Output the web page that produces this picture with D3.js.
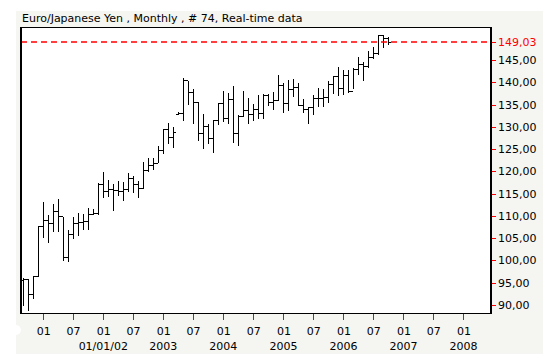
<!DOCTYPE html>
<html>
<head>
<meta charset="utf-8">
<script src="https://cdn.jsdelivr.net/npm/d3@7"></script>
<style>
  body { margin: 0; background: #fff; }
  text { font-family: "DejaVu Sans", Verdana, sans-serif; font-size: 11px; }
</style>
</head>
<body>
<div class="chart"></div>
<script>
// Monthly EUR/JPY bars, Sep 2000 .. Oct 2006 (74 bars)
var firstMonth = new Date(2000, 8, 1);

var openVals = [95.5, 95.8, 92.4, 96.3, 107.7, 108.9, 108.4, 110.9, 109.8, 100.6,
  105.9, 108.3, 108.6, 108.8, 110.4, 110.6, 117.1, 115.4, 116.0, 115.7,
  115.5, 116.0, 118.4, 117.1, 116.2, 120.1, 121.4, 121.8, 124.6, 129.3,
  127.6, 132.8, 133.0, 140.4, 137.8, 135.5, 128.5, 130.0, 127.4, 131.5,
  135.2, 131.9, 136.2, 128.5, 132.4, 133.6, 132.8, 133.9, 133.0, 137.1,
  135.4, 136.0, 139.2, 135.3, 138.4, 138.9, 134.8, 133.8, 134.4, 136.4,
  136.4, 136.5, 139.5, 141.4, 138.6, 141.6, 137.9, 142.9, 143.9, 143.5,
  145.5, 146.5, 150.6, 149.8];

var highVals = [96.1, 95.8, 96.5, 107.7, 113.1, 110.1, 112.6, 113.7, 109.8, 106.8,
  109.8, 110.6, 110.5, 111.7, 111.5, 117.5, 119.9, 118.1, 117.1, 117.8,
  117.6, 119.6, 119.0, 117.8, 122.1, 122.9, 123.1, 125.7, 129.4, 130.9,
  130.0, 133.4, 140.9, 140.3, 138.6, 135.6, 132.8, 130.7, 131.5, 135.2,
  138.0, 137.5, 139.2, 132.6, 138.0, 136.5, 135.2, 137.1, 137.4, 137.4,
  137.8, 141.6, 139.9, 140.5, 140.7, 139.9, 136.2, 134.4, 137.1, 138.8,
  138.6, 140.3, 141.4, 143.5, 142.7, 142.7, 143.1, 145.7, 144.6, 147.0,
  148.0, 150.6, 150.6, 150.2];

var lowVals = [89.8, 88.7, 91.3, 96.2, 105.1, 104.0, 106.4, 106.4, 99.9, 99.7,
  104.9, 105.5, 106.8, 106.8, 110.2, 110.3, 114.1, 114.2, 111.1, 114.5,
  113.3, 115.4, 115.1, 114.1, 116.0, 119.9, 120.2, 121.8, 124.0, 126.1,
  125.3, 132.6, 131.3, 134.8, 130.6, 126.8, 125.0, 126.1, 124.1, 130.3,
  131.1, 130.6, 126.4, 125.8, 132.2, 130.6, 131.3, 131.7, 131.7, 134.7,
  133.7, 135.8, 133.0, 133.6, 136.7, 134.8, 133.2, 130.6, 132.6, 134.4,
  134.5, 135.3, 137.4, 136.9, 137.1, 137.7, 138.4, 141.6, 140.3, 143.3,
  145.3, 146.1, 147.6, 148.4];

var closeVals = [95.8, 92.4, 96.3, 107.7, 108.9, 108.4, 110.9, 109.8, 100.6, 105.9,
  108.3, 108.6, 108.8, 110.4, 110.6, 117.1, 115.4, 116.0, 115.7, 115.5,
  116.0, 118.4, 117.1, 116.2, 120.1, 121.4, 121.8, 124.6, 129.3, 127.6,
  128.8, 133.0, 140.4, 137.8, 135.5, 128.5, 130.0, 127.4, 131.5, 135.2,
  131.9, 136.2, 128.5, 132.4, 133.6, 132.8, 133.9, 133.0, 137.1, 135.4,
  136.0, 139.2, 135.3, 138.4, 138.9, 134.8, 133.8, 134.4, 136.4, 136.4,
  136.5, 139.5, 141.4, 138.6, 141.6, 137.9, 142.9, 143.9, 143.5, 145.5,
  146.5, 150.6, 149.8, 149.03];

var lastPrice = 149.03;
var yTickValues = [90, 95, 100, 105, 110, 115, 120, 125, 130, 135, 140, 145];
var yearTicks = [2002, 2003, 2004, 2005, 2006, 2007, 2008];
var yearLabels = ["01/01/02", "2003", "2004", "2005", "2006", "2007", "2008"];
var titleText = "Euro/Japanese Yen , Monthly , # 74, Real-time data";

var svgWidth = 545;
var svgHeight = 360;

var margin = { top: 27.5, right: 54, bottom: 46.5, left: 21 };
var width = svgWidth - margin.left - margin.right;
var height = svgHeight - margin.top - margin.bottom;

var red = "#ff0000";

var data = closeVals.map((c, i) => ({
  date: d3.timeMonth.offset(firstMonth, i),
  open: openVals[i], high: highVals[i], low: lowVals[i], close: c
}));

var svg = d3.select(".chart")
  .append("svg")
  .attr("width", svgWidth)
  .attr("height", svgHeight);

// grey panel behind everything
svg.append("rect")
  .attr("x", 16).attr("y", 11)
  .attr("width", 527).attr("height", 343)
  .attr("fill", "#f5f5f1");

svg.append("circle")
  .attr("cx", 16).attr("cy", 330).attr("r", 5)
  .attr("fill", "#fff");

svg.append("text")
  .attr("x", 22)
  .attr("y", 22)
  .attr("fill", "#000")
  .text(titleText);

var chartGroup = svg.append("g")
  .attr("transform", `translate(${margin.left}, ${margin.top})`);

chartGroup.append("rect")
  .attr("width", width)
  .attr("height", height)
  .attr("fill", "#fff");

// scales
var xTimeScale = d3.scaleTime()
  .domain([new Date(2000, 7, 18), new Date(2008, 5, 17)])
  .range([0, width]);

var yLinearScale = d3.scaleLinear()
  .domain([88.09, 152.3])
  .range([height, 0]);

var commaFmt = v => d3.format(".2f")(v).replace(".", ",");

// right axis
var rightAxis = d3.axisRight(yLinearScale)
  .tickValues(yTickValues.concat([lastPrice]))
  .tickSize(5)
  .tickPadding(2)
  .tickFormat(commaFmt);

var yAxisG = chartGroup.append("g")
  .attr("transform", `translate(${width}, 0)`)
  .call(rightAxis);
yAxisG.select(".domain").remove();
yAxisG.selectAll("line").attr("stroke", red).attr("shape-rendering", "crispEdges");
yAxisG.selectAll("text")
  .attr("fill", d => d === lastPrice ? red : "#000")
  .style("font-family", "'DejaVu Sans', Verdana, sans-serif")
  .style("font-size", "11px");

// bottom axis, month ticks
var monthTicks = d3.timeMonth.range(new Date(2001, 0, 1), new Date(2008, 0, 2), 6);
var bottomAxis = d3.axisBottom(xTimeScale)
  .tickValues(monthTicks)
  .tickSize(6)
  .tickPadding(8)
  .tickFormat(d3.timeFormat("%m"));

var xAxisG = chartGroup.append("g")
  .attr("transform", `translate(0, ${height})`)
  .call(bottomAxis);
xAxisG.select(".domain").remove();
xAxisG.selectAll("line").attr("stroke", red).attr("shape-rendering", "crispEdges");
xAxisG.selectAll("text")
  .attr("fill", "#000")
  .style("font-family", "'DejaVu Sans', Verdana, sans-serif")
  .style("font-size", "11px");

// year labels under the January ticks
chartGroup.selectAll(".yearLabel")
  .data(yearTicks)
  .enter()
  .append("text")
  .attr("class", "yearLabel")
  .attr("x", d => xTimeScale(new Date(d, 0, 1)))
  .attr("y", height + 36)
  .attr("text-anchor", "middle")
  .attr("fill", "#000")
  .text((d, i) => yearLabels[i]);

// OHLC bars
var bars = chartGroup.append("g")
  .attr("stroke", "#000")
  .attr("stroke-width", 1)
  .attr("shape-rendering", "crispEdges");

var barGroup = bars.selectAll(".bar")
  .data(data)
  .enter()
  .append("g")
  .attr("class", "bar");

barGroup.append("line")
  .attr("x1", d => xTimeScale(d.date)).attr("x2", d => xTimeScale(d.date))
  .attr("y1", d => yLinearScale(d.high)).attr("y2", d => yLinearScale(d.low));

barGroup.append("line")
  .attr("x1", d => xTimeScale(d.date) - 2.5).attr("x2", d => xTimeScale(d.date))
  .attr("y1", d => yLinearScale(d.open)).attr("y2", d => yLinearScale(d.open));

barGroup.append("line")
  .attr("x1", d => xTimeScale(d.date)).attr("x2", d => xTimeScale(d.date) + 2.5)
  .attr("y1", d => yLinearScale(d.close)).attr("y2", d => yLinearScale(d.close));

// last price line
chartGroup.append("line")
  .attr("x1", 0).attr("x2", width)
  .attr("y1", yLinearScale(lastPrice)).attr("y2", yLinearScale(lastPrice))
  .attr("stroke", red)
  .attr("stroke-width", 1.5)
  .attr("stroke-dasharray", "6,4");

// frame
chartGroup.append("rect")
  .attr("width", width)
  .attr("height", height)
  .attr("fill", "none")
  .attr("stroke", "#000")
  .attr("stroke-width", 1.5)
  .attr("shape-rendering", "crispEdges");
</script>
</body>
</html>
